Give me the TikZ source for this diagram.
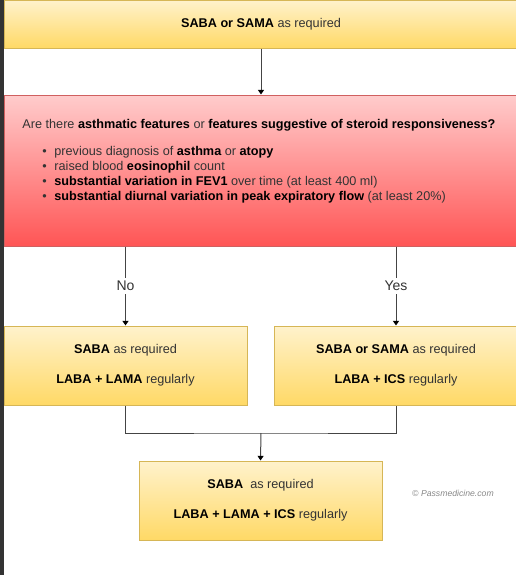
\documentclass[tikz,border=0pt]{standalone}
\usepackage{fontspec}
\setmainfont{Liberation Sans}
\usepackage{xcolor}
\definecolor{ink}{HTML}{333333}
\definecolor{strip}{HTML}{333333}
\definecolor{ytop}{HTML}{FFF2CC}
\definecolor{ybot}{HTML}{FFD966}
\definecolor{yline}{HTML}{D6B656}
\definecolor{rtop}{HTML}{FFCCCC}
\definecolor{rbot}{HTML}{FF5555}
\definecolor{rline}{HTML}{D06060}
\definecolor{wire}{HTML}{444444}
\definecolor{muted}{HTML}{888888}
\usepackage{tikz}
\usetikzlibrary{positioning,arrows.meta,calc}
\newcommand{\kw}[1]{{\bfseries\color{black}#1}}
\newcommand{\bul}{\hspace*{15pt}\makebox[9pt][l]{\textbullet}}
\tikzset{
  >={Triangle[length=3.5pt,width=4.5pt,color=black]},
  blk/.style={draw=yline,top color=ytop,bottom color=ybot,line width=0.75pt,align=center,
    text=ink,font=\fontsize{9.5}{11}\selectfont,inner sep=0pt},
  blkr/.style={draw=rline,top color=rtop,bottom color=rbot,line width=0.75pt,inner sep=0pt},
  flow/.style={->,draw=wire,line width=0.75pt},
  lbl/.style={fill=white,text=ink,font=\fontsize{10.5}{12}\selectfont,inner sep=2pt},
}

\begin{document}
\begin{tikzpicture}[x=0.75pt,y=-0.75pt]
  \clip (0,0) rectangle (516,575);
  \fill[strip] (0,0) rectangle (4,575);
  % start
  \node[blk,minimum width=385.5pt,minimum height=36pt] (start) at (261,24) {\kw{SABA or SAMA} as required};
  % question
  \node[blkr,minimum width=385.5pt,minimum height=113.25pt] (quest) at (261,170.5) {};
  \node[anchor=north west,align=left,inner sep=0pt,text=ink,font=\fontsize{9.5}{11.25}\selectfont]
    (crit) at ([xshift=14pt,yshift=-18.5pt]quest.north west)
    {Are there \kw{asthmatic features} or \kw{features suggestive of steroid responsiveness?}\\[9pt]
     \bul previous diagnosis of \kw{asthma} or \kw{atopy}\\
     \bul raised blood \kw{eosinophil} count\\
     \bul \kw{substantial variation in FEV1} over time (at least 400 ml)\\
     \bul \kw{substantial diurnal variation in peak expiratory flow} (at least 20\%)};
  % branches
  \node[blk,minimum width=182.25pt,minimum height=59.25pt] (nobox) at (125.5,365.5)
    {\kw{SABA} as required\\[11.5pt]\kw{LABA + LAMA} regularly};
  \node[blk,minimum width=183pt,minimum height=59.25pt] (yesbox) at (396,365.5)
    {\kw{SABA or SAMA} as required\\[11.5pt]\kw{LABA + ICS} regularly};
  % final
  \node[blk,minimum width=182.25pt,minimum height=59.25pt] (final) at (260.5,500.5)
    {\kw{SABA}\ \ as required\\[11.5pt]\kw{LABA + LAMA + ICS} regularly};
  \node[text=muted,font=\fontsize{6.5}{7.5}\selectfont\itshape] (copy) at (453,493) {\textcopyright{} Passmedicine.com};
  % connectors
  \draw[flow] (start.south) -- (quest.north);
  \draw[flow] (quest.south -| nobox.north) -- node[lbl]{No} (nobox.north);
  \draw[flow] (quest.south -| yesbox.north) -- node[lbl]{Yes} (yesbox.north);
  \coordinate (join) at (261,433);
  \draw[draw=wire,line width=0.75pt] (nobox.south) |- (join) -| (yesbox.south);
  \draw[flow] (join) -- (final.north);
\end{tikzpicture}
\end{document}
